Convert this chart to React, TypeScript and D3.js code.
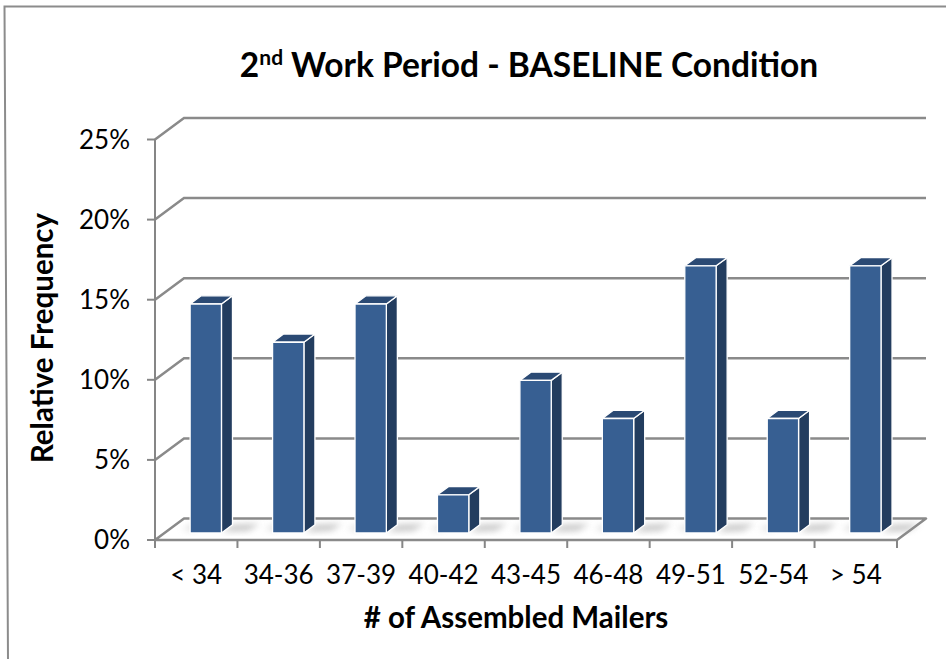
import React from "react";
import * as d3 from "d3";

const categories = ["< 34", "34-36", "37-39", "40-42", "43-45", "46-48", "49-51", "52-54", "> 54"];
const values = [14.29, 11.9, 14.29, 2.38, 9.52, 7.14, 16.67, 7.14, 16.67];
const yTicks = [0, 5, 10, 15, 20, 25];
const yTickLabels = ["0%", "5%", "10%", "15%", "20%", "25%"];
const titleMain = "2";
const titleSup = "nd";
const titleRest = " Work Period - BASELINE Condition";
const yTitle = "Relative Frequency";
const xTitle = "# of Assembled Mailers";

const W = 946;
const H = 659;
const X0 = 155;
const X1 = 897;
const Y0 = 540;
const YTOP = 139.5;
const DX = 29;
const DY = -21.5;
const D0 = 0.33;
const D1 = 0.71;
const FONT = "Lato, 'Open Sans', sans-serif";

export default function App() {
  const x = d3.scaleBand<string>().domain(categories).range([X0, X1]).padding(0);
  const y = d3.scaleLinear().domain([0, 25]).range([Y0, YTOP]);
  const bw = x.bandwidth();
  const barW = bw * 0.38;
  const P = (px: number, v: number, d: number): [number, number] => [px + d * DX, y(v) + d * DY];
  const pts = (arr: [number, number][]) => arr.map((p) => p.join(",")).join(" ");
  const grid = "#8a8a8a";

  return (
    <svg width={W} height={H} style={{ position: "absolute", left: 0, top: 0, background: "#fff" }}>
      <defs>
        <filter id="blur" x="-50%" y="-50%" width="200%" height="200%">
          <feGaussianBlur stdDeviation="3" />
        </filter>
      </defs>
      <path d="M946,6.5 L4.5,6.5 L8,659" fill="none" stroke="#8c8c8c" strokeWidth={2} />

      {/* floor */}
      <polygon
        points={pts([P(X0, 0, 0), P(X1, 0, 0), P(X1, 0, 1), P(X0, 0, 1)])}
        fill="#fff"
        stroke={grid}
        strokeWidth={2.5}
        strokeLinejoin="round"
      />

      {/* gridlines on walls */}
      {yTicks.filter((t) => t > 0).map((t) => (
        <polyline
          key={t}
          points={pts([P(X0, t, 0), P(X0, t, 1), P(X1, t, 1)])}
          fill="none"
          stroke={grid}
          strokeWidth={2.5}
        />
      ))}

      {/* y axis */}
      <line x1={X0} x2={X0} y1={y(25)} y2={y(0)} stroke="#868686" strokeWidth={2} />
      {yTicks.map((t, i) => (
        <g key={t}>
          <line x1={X0 - 8} x2={X0} y1={y(t)} y2={y(t)} stroke="#868686" strokeWidth={2} />
          <text x={130} y={y(t) + 9.3} textAnchor="end" fontFamily={FONT} fontSize={26} fill="#000">
            {yTickLabels[i]}
          </text>
        </g>
      ))}

      {/* x axis ticks */}
      {categories.map((c) => (
        <line key={c} x1={x(c)!} x2={x(c)!} y1={Y0} y2={Y0 + 8} stroke="#868686" strokeWidth={2} />
      ))}
      <line x1={X1} x2={X1} y1={Y0} y2={Y0 + 8} stroke="#868686" strokeWidth={2} />

      {/* shadows */}
      {categories.map((c) => {
        const cx = x(c)! + bw / 2;
        const l = cx - barW / 2;
        const r = cx + barW / 2;
        return (
          <g key={"s" + c} filter="url(#blur)" opacity={0.55}>
            <polygon points={pts([P(r, 0, D0 + 0.05), P(r + 24, 0, D0 + 0.1), P(r + 26, 0, D1 + 0.05), P(r, 0, D1)])} fill="#9a9a9a" />
            <polygon points={pts([P(l - 14, 0, D0 + 0.2), P(l, 0, D0 + 0.05), P(l, 0, D1), P(l - 10, 0, D1)])} fill="#c8c8c8" />
          </g>
        );
      })}

      {/* bars */}
      {categories.map((c, i) => {
        const v = values[i];
        const cx = x(c)! + bw / 2;
        const l = cx - barW / 2;
        const r = cx + barW / 2;
        return (
          <g key={"b" + c} stroke="#fff" strokeWidth={1.3} strokeLinejoin="round">
            <polygon points={pts([P(r, 0, D0), P(r, 0, D1), P(r, v, D1), P(r, v, D0)])} fill="#233d5f" />
            <polygon points={pts([P(l, v, D0), P(r, v, D0), P(r, v, D1), P(l, v, D1)])} fill="#2b4a74" />
            <polygon points={pts([P(l, 0, D0), P(r, 0, D0), P(r, v, D0), P(l, v, D0)])} fill="#375f92" />
          </g>
        );
      })}

      {/* x labels */}
      {categories.map((c) => (
        <text key={"l" + c} x={x(c)! + bw / 2} y={584} textAnchor="middle" fontFamily={FONT} fontSize={26} fill="#000">
          {c}
        </text>
      ))}

      {/* titles */}
      <text x={529} y={77} textAnchor="middle" fontFamily={FONT} fontSize={33.5} fontWeight="bold" fill="#000">
        {titleMain}
        <tspan fontSize={21} dy={-12}>{titleSup}</tspan>
        <tspan dy={12}>{titleRest}</tspan>
      </text>
      <text transform="translate(53,338) rotate(-90)" textAnchor="middle" fontFamily={FONT} fontSize={29.5} fontWeight="bold" fill="#000">
        {yTitle}
      </text>
      <text x={516} y={628} textAnchor="middle" fontFamily={FONT} fontSize={29.5} fontWeight="bold" fill="#000">
        {xTitle}
      </text>
    </svg>
  );
}
